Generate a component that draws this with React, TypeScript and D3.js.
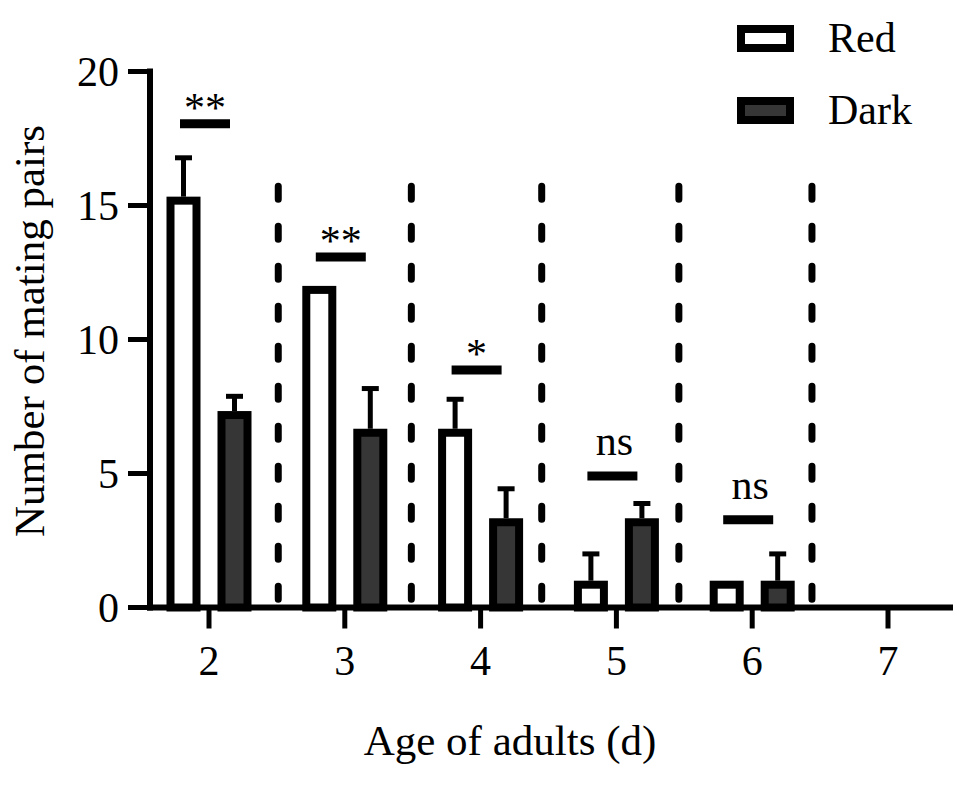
import React, { useEffect, useRef } from "react";
import * as d3 from "d3";

// Age groups (days) and the two treatments
const ages = [2, 3, 4, 5, 6, 7];
const redMean = [15.33, 12, 6.67, 1, 1, 0];
const redErr = [1.45, 0, 1.1, 1, 0, 0];
const darkMean = [7.33, 6.67, 3.33, 3.33, 1, 0];
const darkErr = [0.55, 1.5, 1.1, 0.55, 1, 0];

// Significance annotations per age
const sigAges = [2, 3, 4, 5, 6];
const sigLabels = ["**", "**", "*", "ns", "ns"];
const sigLevels = [18.05, 13.08, 8.86, 4.91, 3.27];

// Dashed separators between age groups
const dividers = [2.51, 3.49, 4.45, 5.46, 6.44];
const dividerTop = 15.85;

const yTicks = [0, 5, 10, 15, 20];
const legendItems = ["Red", "Dark"];

const FONT = "Liberation Serif, DejaVu Serif, Times New Roman, serif";
const DARK = "#363636";

export default function App() {
  const svgRef = useRef<SVGSVGElement | null>(null);

  useEffect(() => {
    document.body.style.margin = "0";
    if (!svgRef.current) return;
    const svg = d3.select(svgRef.current);
    svg.selectAll("*").remove();

    const axisLeft = 150;
    const axisRight = 953;

    const x = d3.scaleLinear().domain([2, 7]).range([209, 888]);
    const y = d3.scaleLinear().domain([0, 20]).range([607.5, 71.5]);

    const sw = 8; // bar outline width
    const barW = 26;
    const off = 25.5;

    // dashed separators
    dividers.forEach((d) => {
      svg.append("line")
        .attr("x1", x(d)).attr("x2", x(d))
        .attr("y1", y(dividerTop) + 3.5).attr("y2", y(0))
        .attr("stroke", "#000")
        .attr("stroke-width", 7)
        .attr("stroke-linecap", "round")
        .attr("stroke-dasharray", "13 27");
    });

    // bars with error bars
    const drawSeries = (means: number[], errs: number[], dx: number, fill: string) => {
      means.forEach((m, i) => {
        if (m <= 0) return;
        const cx = x(ages[i]) + dx;
        const e = errs[i];
        if (e > 0) {
          svg.append("line")
            .attr("x1", cx).attr("x2", cx)
            .attr("y1", y(m)).attr("y2", y(m + e))
            .attr("stroke", "#000").attr("stroke-width", 5);
          svg.append("line")
            .attr("x1", cx - 8.5).attr("x2", cx + 8.5)
            .attr("y1", y(m + e)).attr("y2", y(m + e))
            .attr("stroke", "#000").attr("stroke-width", 5);
        }
        svg.append("rect")
          .attr("x", cx - barW / 2)
          .attr("width", barW)
          .attr("y", y(m) + sw / 2)
          .attr("height", y(0) - y(m) - sw / 2)
          .attr("fill", fill)
          .attr("stroke", "#000")
          .attr("stroke-width", sw);
      });
    };
    drawSeries(redMean, redErr, -off, "#fff");
    drawSeries(darkMean, darkErr, off, DARK);

    // significance bars
    sigAges.forEach((a, i) => {
      const cx = x(a) - 4;
      const yy = y(sigLevels[i]);
      svg.append("line")
        .attr("x1", cx - 25).attr("x2", cx + 25)
        .attr("y1", yy).attr("y2", yy)
        .attr("stroke", "#000").attr("stroke-width", 9);
      const isStar = sigLabels[i].includes("*");
      svg.append("text")
        .attr("x", cx + (isStar ? 0 : 2))
        .attr("y", isStar ? yy - 2 : yy - 21)
        .attr("text-anchor", "middle")
        .style("font-family", FONT)
        .attr("font-size", 42)
        .text(sigLabels[i]);
    });

    // axes
    svg.append("line")
      .attr("x1", axisLeft).attr("x2", axisLeft)
      .attr("y1", y(20) - 3).attr("y2", y(0) + 3)
      .attr("stroke", "#000").attr("stroke-width", 6);
    svg.append("line")
      .attr("x1", axisLeft - 3).attr("x2", axisRight)
      .attr("y1", y(0)).attr("y2", y(0))
      .attr("stroke", "#000").attr("stroke-width", 6);

    yTicks.forEach((t) => {
      svg.append("line")
        .attr("x1", axisLeft - 22).attr("x2", axisLeft)
        .attr("y1", y(t)).attr("y2", y(t))
        .attr("stroke", "#000").attr("stroke-width", 5);
      svg.append("text")
        .attr("x", 119).attr("y", y(t)).attr("dy", "0.34em")
        .attr("text-anchor", "end")
        .style("font-family", FONT).attr("font-size", 42)
        .text(t);
    });

    ages.forEach((a) => {
      svg.append("line")
        .attr("x1", x(a)).attr("x2", x(a))
        .attr("y1", y(0)).attr("y2", y(0) + 21)
        .attr("stroke", "#000").attr("stroke-width", 5);
      svg.append("text")
        .attr("x", x(a)).attr("y", 675)
        .attr("text-anchor", "middle")
        .style("font-family", FONT).attr("font-size", 42)
        .text(a);
    });

    // titles
    svg.append("text")
      .attr("x", 510).attr("y", 755)
      .attr("text-anchor", "middle")
      .style("font-family", FONT).attr("font-size", 43)
      .text("Age of adults (d)");
    svg.append("text")
      .attr("transform", "translate(44,331) rotate(-90)")
      .attr("text-anchor", "middle")
      .style("font-family", FONT).attr("font-size", 43)
      .text("Number of mating pairs");

    // legend
    legendItems.forEach((name, i) => {
      const ly = 38.5 + i * 72;
      svg.append("rect")
        .attr("x", 741).attr("y", ly - 9.5)
        .attr("width", 49).attr("height", 19)
        .attr("fill", i === 0 ? "#fff" : DARK)
        .attr("stroke", "#000").attr("stroke-width", sw);
      svg.append("text")
        .attr("x", 828).attr("y", ly + 13.5)
        .style("font-family", FONT).attr("font-size", 42)
        .text(name);
    });
  }, []);

  return <svg ref={svgRef} width={974} height={787} style={{ display: "block", background: "#fff" }} />;
}
